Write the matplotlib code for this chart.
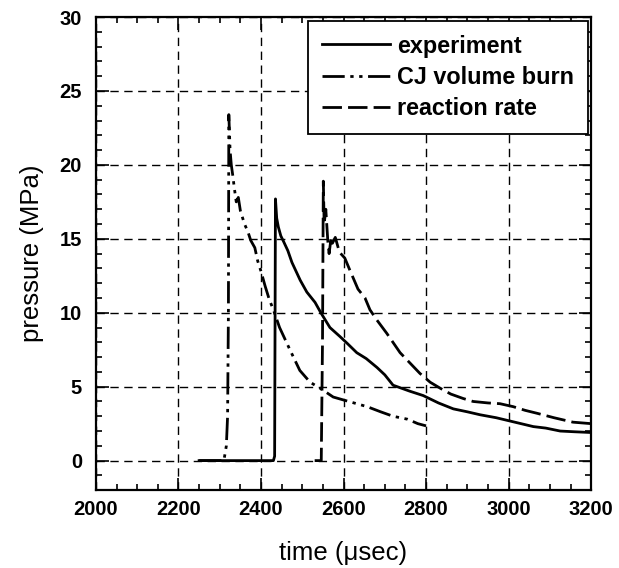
import numpy as np
import matplotlib.pyplot as plt
from matplotlib.ticker import MultipleLocator

plt.rcParams['font.family'] = ['Liberation Sans', 'DejaVu Sans']
plt.rcParams['font.weight'] = 'bold'

# experiment (solid)
exp_t = [2250, 2430, 2433, 2435, 2438, 2442, 2448, 2455, 2465, 2475, 2485, 2495,
         2511, 2531, 2545, 2567, 2591, 2610, 2632, 2655, 2681, 2700, 2720, 2760,
         2793, 2830, 2866, 2900, 2931, 2970, 3000, 3030, 3060, 3090, 3125, 3160, 3200]
exp_p = [0.0, 0.0, 0.3, 17.7, 16.4, 15.8, 15.2, 14.8, 14.2, 13.4, 12.8, 12.2,
         11.4, 10.7, 10.0, 9.0, 8.4, 7.9, 7.3, 6.9, 6.3, 5.8, 5.1, 4.7,
         4.4, 3.9, 3.5, 3.3, 3.1, 2.9, 2.7, 2.5, 2.3, 2.2, 2.0, 1.95, 1.9]

# CJ volume burn (dash-dot-dot)
cj_t = [2250, 2310, 2316, 2319, 2321, 2322, 2325, 2328, 2332, 2335, 2340, 2345,
        2350, 2360, 2368, 2375, 2385, 2392, 2400, 2410, 2420, 2430, 2445, 2470,
        2494, 2519, 2543, 2575, 2600, 2657, 2690, 2720, 2755, 2780, 2800]
cj_p = [0.0, 0.0, 1.0, 3.0, 10.0, 23.4, 21.0, 20.0, 19.2, 18.5, 17.5, 17.8,
        16.9, 16.0, 15.5, 14.9, 14.4, 13.5, 12.8, 11.8, 10.9, 10.2, 9.0, 7.5,
        6.1, 5.3, 4.9, 4.3, 4.1, 3.65, 3.3, 3.0, 2.8, 2.5, 2.35]

# reaction rate (dashed)
rr_t = [2530, 2546, 2549, 2551, 2553, 2557, 2562, 2565, 2570, 2573, 2580, 2590,
        2603, 2615, 2635, 2652, 2664, 2681, 2705, 2737, 2761, 2785, 2810, 2834,
        2860, 2890, 2914, 2950, 2979, 3011, 3040, 3069, 3110, 3156, 3200]
rr_p = [0.0, 0.0, 8.0, 18.9, 16.0, 17.0, 14.8, 14.0, 15.1, 14.7, 15.1, 14.1,
        13.7, 12.9, 11.6, 11.0, 10.2, 9.5, 8.6, 7.3, 6.6, 5.9, 5.3, 4.9,
        4.5, 4.2, 4.0, 3.9, 3.85, 3.65, 3.4, 3.2, 2.9, 2.6, 2.5]

fig = plt.figure(figsize=(6.19, 5.68), dpi=100)
ax = fig.add_axes([0.155, 0.137, 0.800, 0.833])

ax.plot(exp_t, exp_p, color='black', lw=2.0, label='experiment')
ax.plot(cj_t, cj_p, color='black', lw=2.0, dashes=(8, 2, 1.2, 2, 1.2, 2),
        label='CJ volume burn')
ax.plot(rr_t, rr_p, color='black', lw=2.0, dashes=(7, 2.2), label='reaction rate')

ax.set_xlim(2000, 3200)
ax.set_ylim(-2, 30)
ax.xaxis.set_major_locator(MultipleLocator(200))
ax.xaxis.set_minor_locator(MultipleLocator(50))
ax.yaxis.set_major_locator(MultipleLocator(5))
ax.yaxis.set_minor_locator(MultipleLocator(1))
ax.tick_params(which='both', direction='in', top=True, right=True, width=1.2,
               labelsize=14.5)
ax.tick_params(axis='x', which='major', pad=7)
ax.tick_params(axis='y', which='major', pad=10)
ax.tick_params(which='major', length=9)
ax.tick_params(which='minor', length=4)
for s in ax.spines.values():
    s.set_linewidth(1.6)

ax.grid(True, which='major', color='black', lw=1.0, dashes=(6, 4))
ax.set_axisbelow(True)

ax.set_xlabel('time (\u03bcsec)', fontsize=18.5)
ax.xaxis.set_label_coords(0.5, -0.108)
ax.set_ylabel('pressure (MPa)', fontsize=18.5)
ax.yaxis.set_label_coords(-0.105, 0.5)

leg = ax.legend(loc='upper right', borderaxespad=0.15, fontsize=16.8, frameon=True,
                fancybox=False, handlelength=2.9, handletextpad=0.3,
                labelspacing=0.35, borderpad=0.6)
leg.get_frame().set_edgecolor('black')
leg.get_frame().set_linewidth(1.3)
leg.get_frame().set_alpha(1)

fig.savefig('out.png', dpi=100)
